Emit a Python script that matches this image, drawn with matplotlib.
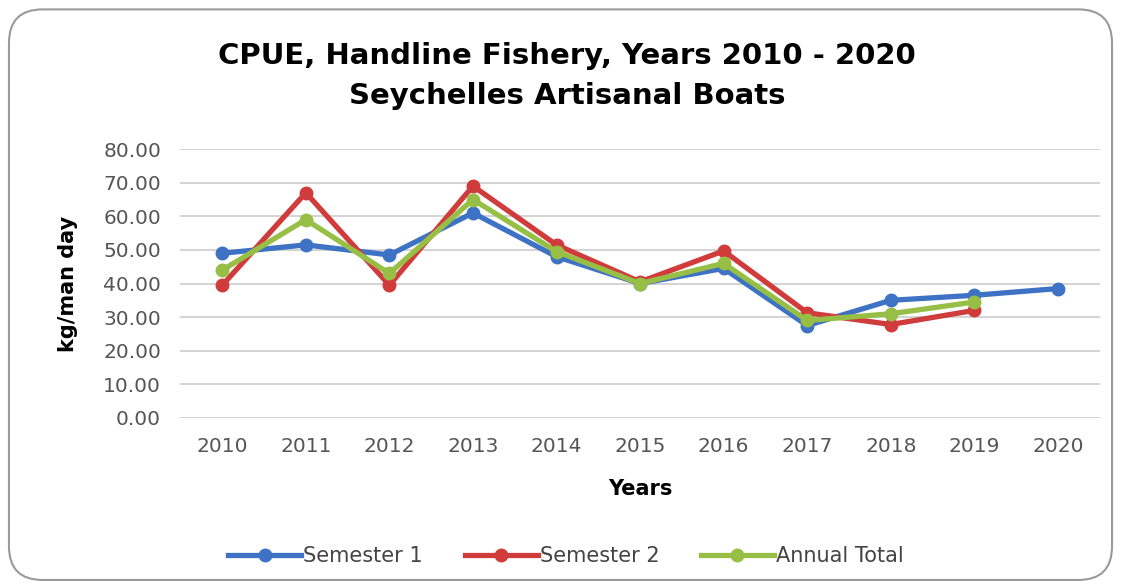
import matplotlib
matplotlib.use("Agg")
import matplotlib.pyplot as plt
from matplotlib.patches import FancyBboxPatch

years = ["2010", "2011", "2012", "2013", "2014", "2015", "2016", "2017", "2018", "2019", "2020"]
semester1 = [49.0, 51.5, 48.5, 61.0, 48.0, 40.0, 44.5, 27.5, 35.0, 36.5, 38.5]
semester2 = [39.5, 67.0, 39.5, 69.0, 51.5, 40.5, 49.7, 31.3, 27.8, 32.0, None]
annual = [44.0, 59.0, 43.0, 65.0, 49.5, 40.0, 46.0, 29.0, 31.0, 34.5, None]
yticks = [0, 10, 20, 30, 40, 50, 60, 70, 80]

fig = plt.figure(figsize=(11.21, 5.87), dpi=100)
border = FancyBboxPatch((0.008, 0.012), 0.984, 0.972, boxstyle="round,pad=0,rounding_size=0.03",
                        transform=fig.transFigure, facecolor="white", edgecolor="#9a9a9a",
                        linewidth=1.5, zorder=-10, mutation_aspect=1121/587)
fig.add_artist(border)
ax = fig.add_axes([0.161, 0.288, 0.820, 0.458], zorder=5)
ax.set_facecolor("none")

x = list(range(len(years)))
def clean(vals):
    xs = [i for i, v in zip(x, vals) if v is not None]
    ys = [v for v in vals if v is not None]
    return xs, ys

series = [("Semester 1", semester1, "#3d72c4"),
          ("Semester 2", semester2, "#d03b3b"),
          ("Annual Total", annual, "#98bf45")]
for name, vals, c in series:
    xs, ys = clean(vals)
    ax.plot(xs, ys, color=c, lw=3.8, marker="o", markersize=9, label=name, solid_joinstyle="round")

ax.set_xlim(-0.5, len(years) - 0.5)
ax.set_ylim(0, 80)
ax.set_xticks(x)
ax.set_xticklabels(years)
ax.set_yticks(yticks)
ax.set_yticklabels([f"{v:.2f}" for v in yticks])
ax.grid(axis="y", color="#d0d0d0", lw=1.3)
ax.set_axisbelow(True)
for s in ax.spines.values():
    s.set_visible(False)
ax.tick_params(length=0, labelsize=14.5, labelcolor="#555555")
ax.tick_params(axis="x", pad=14)
ax.tick_params(axis="y", pad=14)

ax.set_xlabel("Years", fontsize=15, fontweight="bold", labelpad=16)
ax.set_ylabel("kg/man day", fontsize=15, fontweight="bold", labelpad=18)

fig.text(0.506, 0.905, "CPUE, Handline Fishery, Years 2010 - 2020", ha="center", va="center",
         fontsize=21, fontweight="bold")
fig.text(0.506, 0.837, "Seychelles Artisanal Boats", ha="center", va="center",
         fontsize=21, fontweight="bold")

fig.legend(loc="center", bbox_to_anchor=(0.505, 0.053), ncol=3, frameon=False, fontsize=15,
           handlelength=3.5, handletextpad=0.1, columnspacing=2.0, labelcolor="#444444")

fig.savefig("out.png", dpi=100)
